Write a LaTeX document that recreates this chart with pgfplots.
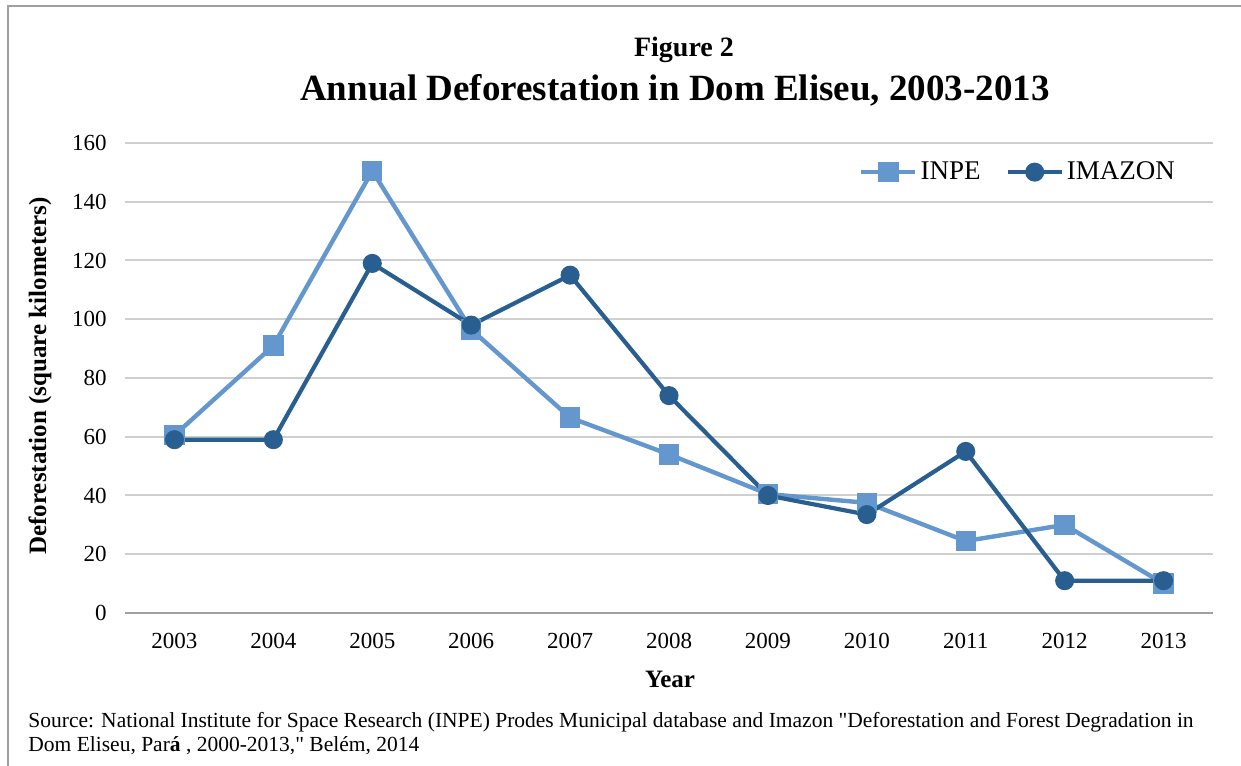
\documentclass[border=0pt]{standalone}
\usepackage{fontspec}
\setmainfont{Liberation Serif}[Ligatures=TeXOff]
\usepackage{pgfplots}
\pgfplotsset{compat=1.18}

\definecolor{inpe}{HTML}{6397CD}
\definecolor{imazon}{HTML}{285E90}
\definecolor{gridgray}{HTML}{D0D0D0}
\definecolor{axisgray}{HTML}{A0A0A0}

\begin{document}
\begin{tikzpicture}
% page: 1241 x 765 px at 0.5pt per px
\path[use as bounding box] (0,0) rectangle (620.5pt,382.5pt);
\draw[axisgray, line width=1pt] (4.2pt,-2pt) -- (4.2pt,379.5pt) -- (625pt,379.5pt);

\node[anchor=base] at (342pt,354pt) {\fontsize{14}{16}\selectfont\bfseries Figure 2};
\node[anchor=base] at (337.5pt,332pt) {\fontsize{18.5}{20}\selectfont\bfseries Annual Deforestation in Dom Eliseu, 2003-2013};

\begin{axis}[
    at={(62.5pt,76pt)}, anchor=south west,
    scale only axis, width=544pt, height=235pt,
    xmin=-0.5, xmax=10.5, ymin=0, ymax=160,
    xtick={0,...,10},
    xticklabels={2003,2004,2005,2006,2007,2008,2009,2010,2011,2012,2013},
    ytick={0,20,...,160},
    axis x line*=bottom, axis y line*=left,
    x axis line style={axisgray, line width=1.2pt, -},
    y axis line style={draw=none},
    major tick length=0pt,
    ymajorgrids, grid style={gridgray, line width=1pt},
    tick label style={font=\fontsize{11.5}{12}\selectfont},
    /pgf/number format/assume math mode=true,
    xticklabel style={inner sep=0pt, anchor=north, yshift=-10pt},
    yticklabel style={inner sep=0pt, anchor=east, xshift=-9pt},
    legend columns=2,
    legend style={draw=none, fill=none, at={(axis description cs:0.968,0.938)},
        anchor=east, inner sep=0pt, font=\fontsize{13.5}{14}\selectfont,
        nodes={inner xsep=1.5pt, inner ysep=0pt},
        /tikz/every even column/.append style={column sep=11pt}},
    legend image code/.code={\draw[mark repeat=2,mark phase=2,#1] plot coordinates {(0pt,0pt) (13.5pt,0pt) (27pt,0pt)};},
]
\addplot[inpe, line width=2.2pt, mark=square*, mark size=4pt, mark options={solid}]
    coordinates {(0,60.5) (1,91) (2,150.5) (3,96.5) (4,66.5) (5,54) (6,40.5) (7,37.5) (8,24.5) (9,30) (10,10)};
\addplot[imazon, line width=2.1pt, mark=*, mark size=3.7pt, mark options={solid}]
    coordinates {(0,59) (1,59) (2,119) (3,98) (4,115) (5,74) (6,40) (7,33.5) (8,55) (9,11) (10,11)};
\legend{INPE,IMAZON}
\end{axis}

\node[rotate=90, anchor=center] at (20pt,194.5pt) {\fontsize{12.5}{14}\selectfont\bfseries Deforestation (square kilometers)};
\node[anchor=base] at (335pt,38.5pt) {\fontsize{12.5}{14}\selectfont\bfseries Year};

\node[anchor=base west, inner sep=0pt, font=\fontsize{10.75}{12}\selectfont] at (14pt,18.5pt)
  {Source: National Institute for Space Research (INPE) Prodes Municipal database and Imazon "Deforestation and Forest Degradation in};
\node[anchor=base west, inner sep=0pt, font=\fontsize{10.75}{12}\selectfont] at (14pt,6.5pt)
  {Dom Eliseu, Par{\bfseries á} , 2000-2013," Belém, 2014};
\end{tikzpicture}
\end{document}
